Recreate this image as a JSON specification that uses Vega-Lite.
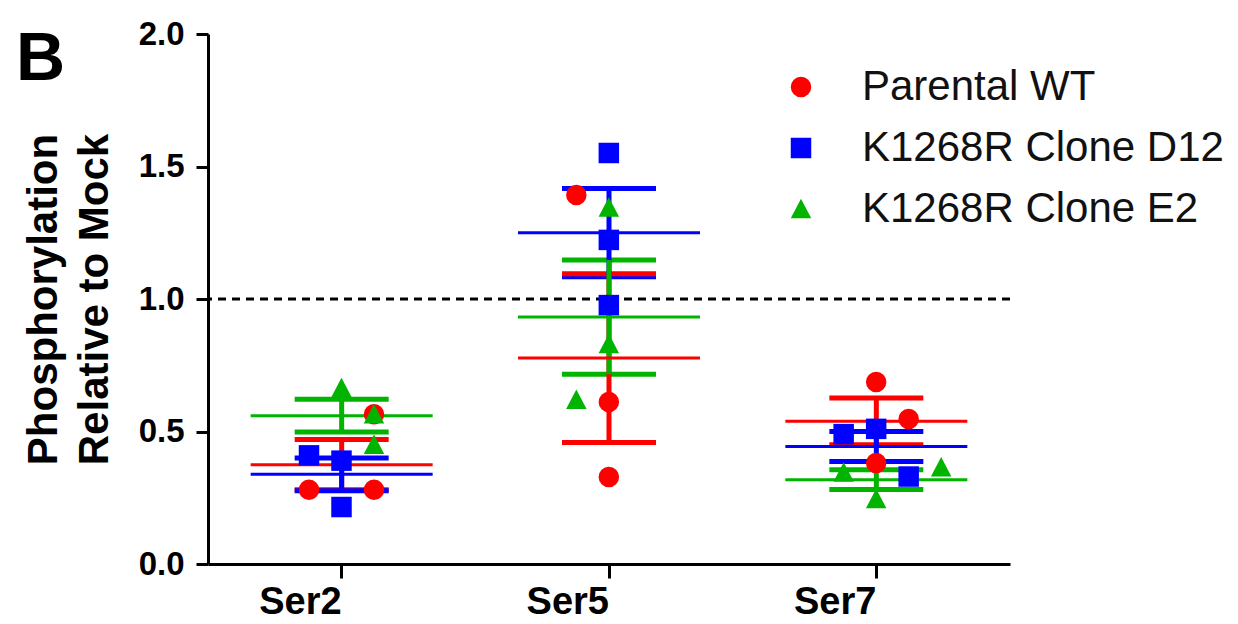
{
  "$schema": "https://vega.github.io/schema/vega-lite/v6.json",
  "autosize": "none",
  "width": 802,
  "height": 530,
  "padding": {"left": 208, "top": 34, "right": 228, "bottom": 60},
  "background": "white",
  "config": {
    "view": {"stroke": null},
    "font": "Liberation Sans",
    "axis": {"labelFont": "Liberation Sans", "titleFont": "Liberation Sans", "labelColor": "black", "titleColor": "black", "domainColor": "black", "tickColor": "black", "grid": false},
    "legend": {"labelFont": "Liberation Sans", "labelFontSize": 42, "labelColor": "#111111", "labelLimit": 0, "symbolSize": 420, "rowPadding": 19, "labelOffset": 40, "symbolStrokeWidth": 0, "padding": 0}
  },
  "title": {"text": "B", "fontSize": 68, "fontWeight": "bold", "font": "Liberation Sans", "color": "black", "anchor": "start", "frame": "group", "orient": "top", "baseline": "alphabetic", "offset": 0, "dx": -192, "dy": 130},
  "datasets": {
    "pts": [
      {"site": "Ser2", "group": "Parental WT", "value": 0.28, "jitter": -1},
      {"site": "Ser2", "group": "Parental WT", "value": 0.28, "jitter": 1},
      {"site": "Ser2", "group": "Parental WT", "value": 0.565, "jitter": 1},
      {"site": "Ser2", "group": "K1268R Clone D12", "value": 0.41, "jitter": -1},
      {"site": "Ser2", "group": "K1268R Clone D12", "value": 0.39, "jitter": 0},
      {"site": "Ser2", "group": "K1268R Clone D12", "value": 0.215, "jitter": 0},
      {"site": "Ser2", "group": "K1268R Clone E2", "value": 0.664, "jitter": 0},
      {"site": "Ser2", "group": "K1268R Clone E2", "value": 0.45, "jitter": 1},
      {"site": "Ser2", "group": "K1268R Clone E2", "value": 0.565, "jitter": 1},
      {"site": "Ser5", "group": "Parental WT", "value": 1.392, "jitter": -1},
      {"site": "Ser5", "group": "Parental WT", "value": 0.611, "jitter": 0},
      {"site": "Ser5", "group": "Parental WT", "value": 0.328, "jitter": 0},
      {"site": "Ser5", "group": "K1268R Clone D12", "value": 1.551, "jitter": 0},
      {"site": "Ser5", "group": "K1268R Clone D12", "value": 1.223, "jitter": 0},
      {"site": "Ser5", "group": "K1268R Clone D12", "value": 0.977, "jitter": 0},
      {"site": "Ser5", "group": "K1268R Clone E2", "value": 1.345, "jitter": 0},
      {"site": "Ser5", "group": "K1268R Clone E2", "value": 0.83, "jitter": 0},
      {"site": "Ser5", "group": "K1268R Clone E2", "value": 0.62, "jitter": -1},
      {"site": "Ser7", "group": "Parental WT", "value": 0.687, "jitter": 0},
      {"site": "Ser7", "group": "Parental WT", "value": 0.547, "jitter": 1},
      {"site": "Ser7", "group": "Parental WT", "value": 0.381, "jitter": 0},
      {"site": "Ser7", "group": "K1268R Clone D12", "value": 0.49, "jitter": -1},
      {"site": "Ser7", "group": "K1268R Clone D12", "value": 0.51, "jitter": 0},
      {"site": "Ser7", "group": "K1268R Clone D12", "value": 0.33, "jitter": 1},
      {"site": "Ser7", "group": "K1268R Clone E2", "value": 0.365, "jitter": 2},
      {"site": "Ser7", "group": "K1268R Clone E2", "value": 0.245, "jitter": 0},
      {"site": "Ser7", "group": "K1268R Clone E2", "value": 0.345, "jitter": -1}
    ],
    "ref": [{"level": 1}]
  },
  "layer": [
    {
      "data": {"name": "ref"},
      "mark": {"type": "rule", "color": "black", "strokeWidth": 3, "strokeDash": [8, 6]},
      "encoding": {"y": {"field": "level", "type": "quantitative", "title": ["Phosphorylation", "Relative to Mock"], "scale": {"domain": [0, 2]}}}
    },
    {
      "data": {"name": "pts"},
      "mark": {"type": "errorbar", "extent": "stderr", "opacity": 1, "ticks": {"size": 94, "thickness": 5, "opacity": 1}, "rule": {"strokeWidth": 5, "opacity": 1}},
      "encoding": {
        "x": {"field": "site", "type": "nominal", "title": null},
        "y": {"field": "value", "type": "quantitative", "title": ["Phosphorylation", "Relative to Mock"]},
        "color": {"field": "group", "type": "nominal"}
      }
    },
    {
      "data": {"name": "pts"},
      "mark": {"type": "tick", "size": 182, "thickness": 3, "opacity": 1},
      "encoding": {
        "x": {"field": "site", "type": "nominal", "title": null},
        "y": {"field": "value", "type": "quantitative", "aggregate": "mean", "title": ["Phosphorylation", "Relative to Mock"]},
        "color": {"field": "group", "type": "nominal"}
      }
    },
    {
      "data": {"name": "pts"},
      "mark": {"type": "point", "filled": true, "opacity": 1, "size": 420, "strokeWidth": 0},
      "encoding": {
        "x": {
          "field": "site", "type": "nominal", "title": null,
          "scale": {"paddingInner": 0, "paddingOuter": 0},
          "axis": {"labelAngle": 0, "labelFontSize": 38, "labelFontWeight": "bold", "domainWidth": 3, "tickWidth": 3, "tickSize": 14, "labelPadding": 24}
        },
        "xOffset": {"field": "jitter", "type": "quantitative", "scale": {"domain": [-4.108, 4.108], "range": [0, 267]}},
        "y": {
          "field": "value", "type": "quantitative", "title": ["Phosphorylation", "Relative to Mock"],
          "scale": {"domain": [0, 2], "nice": false},
          "axis": {"titleFontSize": 42, "titleFontWeight": "bold", "titleLineHeight": 51, "titlePadding": 22, "values": [0, 0.5, 1, 1.5, 2], "format": ".1f", "labelFontSize": 33, "labelFontWeight": "bold", "domainWidth": 3, "tickWidth": 3, "tickSize": 12, "labelPadding": 12}
        },
        "color": {
          "field": "group", "type": "nominal", "title": null,
          "scale": {"domain": ["Parental WT", "K1268R Clone D12", "K1268R Clone E2"], "range": ["#ff0000", "#0000ff", "#00b400"]},
          "legend": {"orient": "none", "legendX": 572, "legendY": 32}
        },
        "shape": {
          "field": "group", "type": "nominal", "title": null,
          "scale": {"domain": ["Parental WT", "K1268R Clone D12", "K1268R Clone E2"], "range": ["circle", "square", "M-1,0.9L0,-1L1,0.9Z"]},
          "legend": {"orient": "none", "legendX": 572, "legendY": 32}
        }
      }
    }
  ]
}
